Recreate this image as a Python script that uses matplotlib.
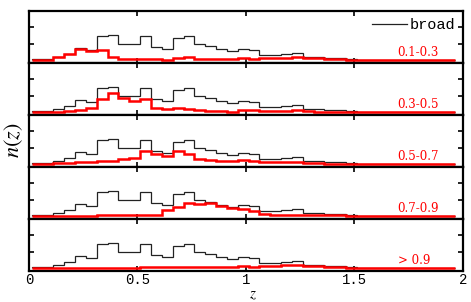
import numpy as np
import matplotlib
matplotlib.use("Agg")
import matplotlib.pyplot as plt

# bin edges of the n(z) histograms (width 0.05)
bin_edges = 0.0125 + 0.05 * np.arange(40)

# broad sample, same curve in every panel
broad = [0.08, 0.08, 0.20, 0.38, 0.76, 0.62, 1.45, 1.52, 0.98, 0.98,
         1.47, 0.78, 0.70, 1.35, 1.47, 1.00, 0.86, 0.70, 0.57, 0.70,
         0.64, 0.33, 0.34, 0.36, 0.41, 0.20, 0.20, 0.16, 0.12, 0.06,
         0.03, 0.02, 0.02, 0.01, 0.01, 0.01, 0.01, 0.01, 0.01]

bin_labels = ["0.1-0.3", "0.3-0.5", "0.5-0.7", "0.7-0.9", "> 0.9"]

nz_01_03 = [0.04, 0.04, 0.18, 0.38, 0.69, 0.53, 0.63, 0.22, 0.07, 0.07,
            0.05, 0.05, 0.03, 0.12, 0.17, 0.10, 0.10, 0.06, 0.06, 0.12,
            0.08, 0.13, 0.13, 0.14, 0.20, 0.13, 0.12, 0.07, 0.05, 0.03,
            0.01, 0.01, 0.01, 0.01, 0.01, 0.01, 0.01, 0.01, 0.01]
nz_03_05 = [0.02, 0.02, 0.03, 0.05, 0.14, 0.24, 0.82, 1.18, 0.84, 0.68,
            0.78, 0.24, 0.18, 0.24, 0.18, 0.14, 0.10, 0.08, 0.04, 0.14,
            0.12, 0.10, 0.10, 0.10, 0.12, 0.06, 0.04, 0.03, 0.01, 0.01,
            0.01, 0.01, 0.01, 0.01, 0.01, 0.01, 0.01, 0.01, 0.01]
nz_05_07 = [0.04, 0.04, 0.08, 0.08, 0.12, 0.12, 0.18, 0.22, 0.31, 0.37,
            0.80, 0.61, 0.51, 0.80, 0.61, 0.31, 0.24, 0.18, 0.18, 0.24,
            0.20, 0.14, 0.14, 0.16, 0.16, 0.06, 0.05, 0.04, 0.03, 0.01,
            0.01, 0.01, 0.01, 0.01, 0.01, 0.01, 0.01, 0.01, 0.01]
nz_07_09 = [0.02, 0.02, 0.02, 0.02, 0.02, 0.02, 0.05, 0.05, 0.05, 0.05,
            0.05, 0.05, 0.37, 0.57, 0.82, 0.73, 0.80, 0.61, 0.51, 0.41,
            0.33, 0.14, 0.10, 0.10, 0.10, 0.07, 0.07, 0.06, 0.05, 0.03,
            0.01, 0.01, 0.01, 0.01, 0.01, 0.01, 0.01, 0.01, 0.01]
nz_09_up = [0.03, 0.03, 0.03, 0.03, 0.03, 0.03, 0.03, 0.03, 0.03, 0.03,
            0.05, 0.05, 0.05, 0.05, 0.08, 0.08, 0.08, 0.10, 0.10, 0.12,
            0.10, 0.16, 0.16, 0.17, 0.20, 0.12, 0.11, 0.06, 0.05, 0.03,
            0.01, 0.01, 0.01, 0.01, 0.01, 0.01, 0.01, 0.01, 0.01]
tomo = [nz_01_03, nz_03_05, nz_05_07, nz_07_09, nz_09_up]

x_ticks = [0, 0.5, 1, 1.5, 2]
x_ticklabels = ["0", "0.5", "1", "1.5", "2"]

plt.rcParams["mathtext.fontset"] = "stix"

fig, axes = plt.subplots(nrows=5, ncols=1, figsize=(4.71, 3.02), dpi=100, sharex=True)
fig.subplots_adjust(left=0.0616, right=0.9824, bottom=0.1036, top=0.9646, hspace=0)

for i, ax in enumerate(axes):
    ax.stairs(broad, bin_edges, color="#222222", lw=0.9, label="broad", zorder=2)
    ax.stairs(tomo[i], bin_edges, color="red", lw=1.8, zorder=3)
    ax.set_xlim(0, 2)
    ax.set_ylim(-0.15, 3.0)
    ax.set_yticks([1, 2])
    ax.set_yticklabels([])
    ax.tick_params(direction="in", top=True, right=True, length=3.5, width=1.2)
    for s in ax.spines.values():
        s.set_linewidth(1.6)
    # x in data units, y in axes fraction
    ax.text(1.7, 0.12, bin_labels[i], transform=ax.get_xaxis_transform(),
            color="red", family="DejaVu Serif", fontsize=8.5, va="baseline")

axes[-1].set_xticks(x_ticks)
axes[-1].set_xticklabels(x_ticklabels, family="Liberation Mono", fontsize=10)
axes[-1].tick_params(axis="x", pad=2)

axes[0].legend(loc="upper right", frameon=False, handlelength=2.3, handletextpad=0.15,
               borderaxespad=0.2, borderpad=0.3,
               prop={"family": "Liberation Mono", "size": 11})

fig.text(0.03, 1 - 140 / 302, "$n(z)$", rotation=90, ha="center", va="center", fontsize=16)
fig.text(0.536, 1 - 298 / 302, "$z$", ha="center", va="baseline", fontsize=11)

fig.savefig("out.png", dpi=100)
